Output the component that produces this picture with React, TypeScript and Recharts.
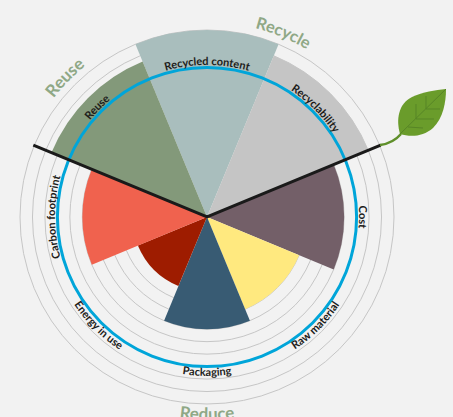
import { PieChart, Pie, PolarGrid, Cell } from 'recharts';

const CATEGORIES = ['Recycled content', 'Recyclability', 'Cost', 'Raw material', 'Packaging', 'Energy in use', 'Carbon footprint', 'Reuse'];
const SCORES = [15, 14, 11, 8, 9, 6, 10, 13.5];
const COLORS = ['#a9bebd', '#c5c5c5', '#735f68', '#ffe97f', '#385b73', '#9e1c00', '#f0624e', '#83997a'];
const RING_VALUES = [7, 8, 9, 10, 11, 13, 14, 15];
const GROUPS = ['Reuse', 'Recycle', 'Reduce'];

const WIDTH = 453;
const HEIGHT = 417;
const CX = 207;
const CY = 217;
const MAX_R = 187;

const chartData = CATEGORIES.map((name, i) => ({ name, score: SCORES[i], slice: 1 }));
const toR = (v: number) => (v / 15) * MAX_R;

// clockwise from the top, degrees
function point(deg: number, r: number) {
  const a = (deg * Math.PI) / 180;
  return [CX + r * Math.sin(a), CY - r * Math.cos(a)];
}

function arcPath(from: number, to: number, r: number) {
  const [x1, y1] = point(from, r);
  const [x2, y2] = point(to, r);
  return `M${x1} ${y1}A${r} ${r} 0 0 ${to > from ? 1 : 0} ${x2} ${y2}`;
}

function ArcText({ id, text, mid, r, flip, size, color }: { id: string; text: string; mid: number; r: number; flip?: boolean; size: number; color: string }) {
  const span = 80;
  const d = flip ? arcPath(mid + span, mid - span, r) : arcPath(mid - span, mid + span, r);
  return (
    <g>
      <path id={id} d={d} fill="none" />
      <text fontSize={size} fontWeight={700} fill={color} textAnchor="middle" fontFamily="Lato, sans-serif">
        <textPath href={`#${id}`} startOffset="50%">{text}</textPath>
      </text>
    </g>
  );
}

// the blue ring, black divider, leaf and curved labels sit above the sectors
function Overlay() {
  const [lx, ly] = point(-67.5, 188);
  const [rx, ry] = point(67.5, 188);
  return (
    <svg width={WIDTH} height={HEIGHT} style={{ position: 'absolute', left: 0, top: 0 }}>
      <circle cx={CX} cy={CY} r={toR(12)} fill="none" stroke="#00a5d9" strokeWidth={3} />
      <path d={`M${lx} ${ly}L${CX} ${CY}L${rx} ${ry}`} fill="none" stroke="#1a1a1a" strokeWidth={3} />
      <path d="M380 145C388 144 395 141 401 134" fill="none" stroke="#5f8f2a" strokeWidth={2.5} />
      <path d="M400 134C396 120 398 104 412 97C423 92 435 90 446 89C446 103 443 118 433 128C423 137 410 137 400 134Z" fill="#6a9c2b" />
      <path d="M400 134L446 89M416 119L416 104M426 109L426 96M416 119L434 119M426 109L440 109M408 127L423 128" fill="none" stroke="#578526" strokeWidth={1} />
      <ArcText id="l0" text={CATEGORIES[0]} mid={0} r={152} size={11} color="#1d1d1b" />
      <ArcText id="l1" text={CATEGORIES[1]} mid={45} r={152} size={11} color="#1d1d1b" />
      <ArcText id="l2" text={CATEGORIES[2]} mid={90} r={152} size={11} color="#1d1d1b" />
      <ArcText id="l3" text={CATEGORIES[3]} mid={135} r={159} flip size={11} color="#1d1d1b" />
      <ArcText id="l4" text={CATEGORIES[4]} mid={180} r={159} flip size={11} color="#1d1d1b" />
      <ArcText id="l5" text={CATEGORIES[5]} mid={225} r={159} flip size={11} color="#1d1d1b" />
      <ArcText id="l6" text={CATEGORIES[6]} mid={270} r={152} size={11} color="#1d1d1b" />
      <ArcText id="l7" text={CATEGORIES[7]} mid={315} r={152} size={11} color="#1d1d1b" />
      <ArcText id="g0" text={GROUPS[0]} mid={-45.5} r={194} size={17} color="#8fa886" />
      <ArcText id="g1" text={GROUPS[1]} mid={22.5} r={195} size={16.5} color="#8fa886" />
      <ArcText id="g2" text={GROUPS[2]} mid={180} r={203} flip size={17} color="#8fa886" />
    </svg>
  );
}

export default function App() {
  return (
    <div style={{ position: 'fixed', left: 0, top: 0, width: WIDTH, height: HEIGHT, background: '#f2f2f2', overflow: 'hidden' }}>
      {/* PolarGrid centres itself on the chart, so the chart box is sized around CX, CY */}
      <PieChart width={CX * 2} height={CY * 2} margin={{ top: 0, right: 0, bottom: 0, left: 0 }}>
        <PolarGrid gridType="circle" radialLines={false} polarRadius={RING_VALUES.map(toR)} stroke="#c6c6c6" />
        <Pie
          data={chartData}
          dataKey="slice"
          cx={CX}
          cy={CY}
          innerRadius={0}
          outerRadius={(d: { score: number }) => toR(d.score)}
          startAngle={112.5}
          endAngle={-247.5}
          stroke="none"
          isAnimationActive={false}
        >
          {chartData.map((d, i) => <Cell key={d.name} fill={COLORS[i]} />)}
        </Pie>
      </PieChart>
      <Overlay />
    </div>
  );
}
